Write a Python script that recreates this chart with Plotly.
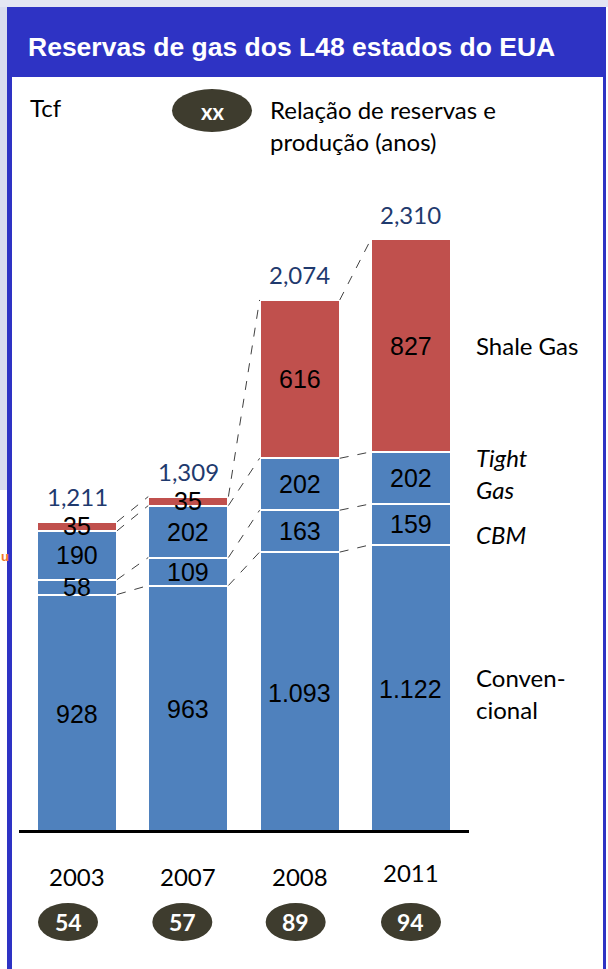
import plotly.graph_objects as go

# ---------------- data ----------------
years = ["2003", "2007", "2008", "2011"]
convencional = [928, 963, 1093, 1122]
cbm = [58, 109, 163, 159]
tight_gas = [190, 202, 202, 202]
shale_gas = [35, 35, 616, 827]
totals = [1211, 1309, 2074, 2310]
rp_years = [54, 57, 89, 94]
conv_labels = ["928", "963", "1.093", "1.122"]
total_labels = ["1,211", "1,309", "2,074", "2,310"]

# ---------------- style / layout constants ----------------
W_PX, H_PX = 608, 969
L, R, T, B = 17, 470, 160, 833          # plot area in pixels
BLUE = "#4F81BD"
RED = "#C0504D"
FRAME = "#2E33C4"
OLIVE = "#3E3C2E"
NAVY = "#1F3A6E"
BAR_W = 0.72
ARIAL = "Liberation Sans, Arial, sans-serif"
CAL = "Lato, Carlito, Calibri, sans-serif"
CAL_SIZE = 24


def px(xp):
    return (xp - L) / (R - L)


def py(yp):
    return (B - yp) / (B - T)


x = list(range(len(years)))
segments = [convencional, cbm, tight_gas, shale_gas]
seg_colors = [BLUE, BLUE, BLUE, RED]
seg_names = ["Convencional", "CBM", "Tight Gas", "Shale Gas"]

fig = go.Figure()

# stacked bars
for vals, col, name in zip(segments, seg_colors, seg_names):
    fig.add_trace(go.Bar(
        x=x, y=vals, width=BAR_W, name=name,
        marker=dict(color=col, line=dict(color="white", width=2)),
        hoverinfo="skip", showlegend=False,
    ))

# cumulative tops / mids
tops = []
mids = []
run = [0] * len(years)
for vals in segments:
    mids.append([r + v / 2 for r, v in zip(run, vals)])
    run = [r + v for r, v in zip(run, vals)]
    tops.append(list(run))

# dashed connector lines between neighbouring bars
cx, cy = [], []
for i in range(len(years) - 1):
    for k in range(len(segments)):
        cx += [i + BAR_W / 2, i + 1 - BAR_W / 2, None]
        cy += [tops[k][i], tops[k][i + 1], None]
fig.add_trace(go.Scatter(
    x=cx, y=cy, mode="lines",
    line=dict(color="#404040", width=1, dash="dash"),
    hoverinfo="skip", showlegend=False,
))

annotations = []

# labels inside segments
for k, vals in enumerate(segments):
    for i, v in enumerate(vals):
        txt = conv_labels[i] if k == 0 else str(v)
        annotations.append(dict(
            x=i, y=mids[k][i], xref="x", yref="y", text=txt, showarrow=False,
            font=dict(family=ARIAL, size=25, color="black"),
            xanchor="center", yanchor="middle",
        ))

# totals
for i, t in enumerate(totals):
    annotations.append(dict(
        x=i, y=t, xref="x", yref="y", text=total_labels[i], showarrow=False,
        font=dict(family=CAL, size=CAL_SIZE, color=NAVY),
        xanchor="center", yanchor="middle", yshift=25,
    ))

# series names at right of last bar
last = len(years) - 1
right_labels = [
    ("Shale Gas", mids[3][last], 0, False),
    ("Tight", mids[2][last], 20, True),
    ("Gas", mids[2][last], -12, True),
    ("CBM", mids[1][last], -10, True),
    ("Conven-", mids[0][last], 11, False),
    ("cional", mids[0][last], -21, False),
]
for txt, yv, ys, ital in right_labels:
    annotations.append(dict(
        x=px(474), y=yv, xref="paper", yref="y",
        text=f"<i>{txt}</i>" if ital else txt, showarrow=False,
        font=dict(family=CAL, size=CAL_SIZE, color="black"),
        xanchor="left", yanchor="middle", yshift=ys,
    ))

# year labels and R/P ellipses
ell_off = [-9, -6, -4, 0]
year_shift = [0, 0, 0, 4]
shapes = []
for i, yr in enumerate(years):
    annotations.append(dict(
        x=i, y=py(876), xref="x", yref="paper", text=yr, showarrow=False,
        font=dict(family=CAL, size=CAL_SIZE, color="black"),
        xanchor="center", yanchor="middle", yshift=year_shift[i],
    ))
    shapes.append(dict(
        type="circle", xref="x", yref="paper",
        xsizemode="pixel", xanchor=i, x0=ell_off[i] - 30, x1=ell_off[i] + 30,
        y0=py(941), y1=py(903),
        fillcolor=OLIVE, line=dict(color=OLIVE, width=0), layer="above",
    ))
    annotations.append(dict(
        x=i, y=py(922), xref="x", yref="paper", text=f"<b>{rp_years[i]}</b>",
        showarrow=False, xshift=ell_off[i],
        font=dict(family=CAL, size=23, color="white"),
        xanchor="center", yanchor="middle",
    ))

# baseline
shapes.append(dict(type="line", xref="paper", yref="y", x0=px(19), x1=px(469),
                   y0=0, y1=0, line=dict(color="black", width=6), layer="above"))

# background pattern strips (left / top)
shapes.append(dict(type="rect", xref="paper", yref="paper", x0=px(0), x1=px(7),
                   y0=py(0), y1=py(490), fillcolor="#D9DCEF", line=dict(width=0), layer="below"))
shapes.append(dict(type="rect", xref="paper", yref="paper", x0=px(0), x1=px(608),
                   y0=py(0), y1=py(7), fillcolor="#E4E6F3", line=dict(width=0), layer="below"))

# frame: title bar and borders
shapes.append(dict(type="rect", xref="paper", yref="paper", x0=px(7), x1=px(606),
                   y0=py(77), y1=py(7), fillcolor=FRAME, line=dict(width=0), layer="above"))
shapes.append(dict(type="rect", xref="paper", yref="paper", x0=px(7), x1=px(12),
                   y0=py(969), y1=py(77), fillcolor=FRAME, line=dict(width=0), layer="above"))
shapes.append(dict(type="rect", xref="paper", yref="paper", x0=px(603), x1=px(606),
                   y0=py(969), y1=py(77), fillcolor=FRAME, line=dict(width=0), layer="above"))

# legend ellipse
shapes.append(dict(type="circle", xref="paper", yref="paper", x0=px(172), x1=px(252),
                   y0=py(132), y1=py(89), fillcolor=OLIVE, line=dict(width=0), layer="above"))

# title & header texts
annotations += [
    dict(x=px(26), y=py(47), xref="paper", yref="paper", showarrow=False,
         text="<b>Reservas de gas dos L48 estados do EUA</b>",
         font=dict(family=ARIAL, size=26.5, color="white"), xanchor="left", yanchor="middle"),
    dict(x=px(28), y=py(107), xref="paper", yref="paper", showarrow=False, text="Tcf",
         font=dict(family=CAL, size=CAL_SIZE, color="black"), xanchor="left", yanchor="middle"),
    dict(x=px(212), y=py(111), xref="paper", yref="paper", showarrow=False, text="<b>xx</b>",
         font=dict(family=CAL, size=22, color="white"), xanchor="center", yanchor="middle"),
    dict(x=px(268), y=py(109), xref="paper", yref="paper", showarrow=False,
         text="Relação de reservas e",
         font=dict(family=CAL, size=CAL_SIZE, color="black"), xanchor="left", yanchor="middle"),
    dict(x=px(268), y=py(141), xref="paper", yref="paper", showarrow=False,
         text="produção (anos)",
         font=dict(family=CAL, size=CAL_SIZE, color="black"), xanchor="left", yanchor="middle"),
    dict(x=px(0), y=py(556), xref="paper", yref="paper", showarrow=False, text="<b>u</b>",
         font=dict(family=ARIAL, size=13, color="#F07828"), xanchor="left", yanchor="middle",
         borderpad=0),
]

y_max = (B - T) / 0.257
fig.update_layout(
    width=W_PX, height=H_PX,
    margin=dict(l=L, r=W_PX - R, t=T, b=H_PX - B, pad=0),
    paper_bgcolor="white", plot_bgcolor="rgba(0,0,0,0)",
    barmode="stack", bargap=0,
    xaxis=dict(range=[(L - 77) / 111.33, (R - 77) / 111.33], visible=False, fixedrange=True),
    yaxis=dict(range=[0, y_max], visible=False, fixedrange=True),
    shapes=shapes, annotations=annotations,
    showlegend=False,
)

fig.write_html(
    "out.html",
    config={"displayModeBar": False, "staticPlot": True},
    post_script="document.body.style.margin='0';document.body.style.overflow='hidden';",
)
